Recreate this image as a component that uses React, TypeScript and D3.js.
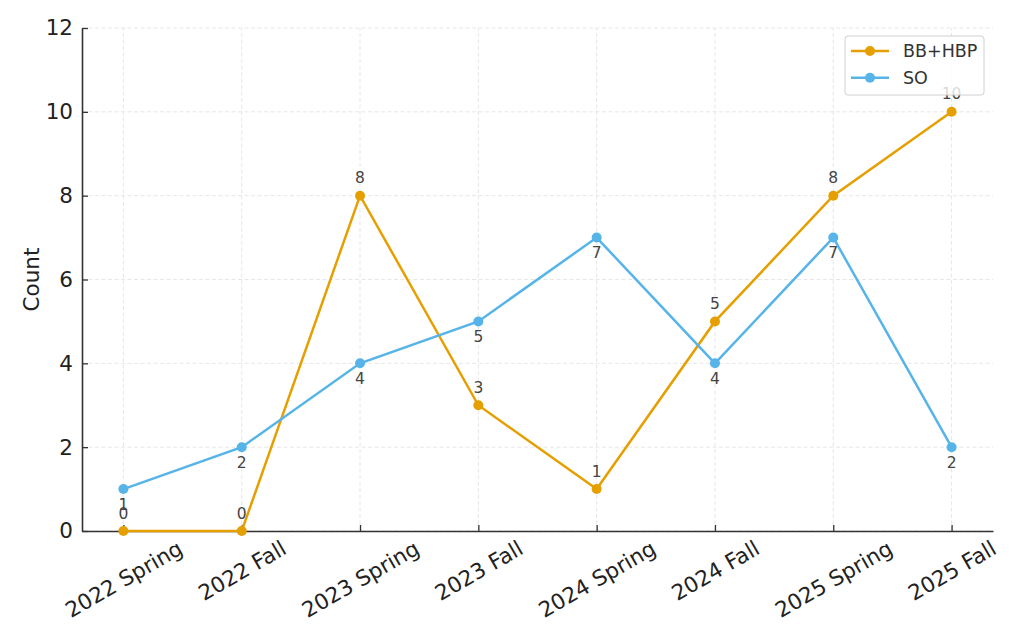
import React from "react";
import * as d3 from "d3";

const seasons = [
  "2022 Spring", "2022 Fall", "2023 Spring", "2023 Fall",
  "2024 Spring", "2024 Fall", "2025 Spring", "2025 Fall",
];
const bbHbp = [0, 0, 8, 3, 1, 5, 8, 10];
const so = [1, 2, 4, 5, 7, 4, 7, 2];
const yTicks = [0, 2, 4, 6, 8, 10, 12];

const ORANGE = "#E69F00";
const BLUE = "#56B4E9";
const FONT = "DejaVu Sans";
const TICK_FS = 21.5;

const W = 1024, H = 640;
const margin = { left: 82, right: 31, top: 28, bottom: 109 };

const App = () => {
  const svgRef = React.useRef(null);

  React.useEffect(() => {
    const x = d3.scaleLinear().domain([-0.35, seasons.length - 1 + 0.35]).range([margin.left, W - margin.right]);
    const y = d3.scaleLinear().domain([0, 12]).range([H - margin.bottom, margin.top]);

    const svg = d3.select(svgRef.current);
    svg.selectAll("*").remove();

    // grid
    const grid = svg.append("g");
    grid.selectAll("line.gx").data(seasons).enter().append("line")
      .attr("x1", (d, i) => x(i)).attr("x2", (d, i) => x(i))
      .attr("y1", y(0)).attr("y2", y(12))
      .attr("stroke", "#e0e0e0").attr("stroke-dasharray", "4,2.5").attr("stroke-width", 0.8);
    grid.selectAll("line.gy").data(yTicks).enter().append("line")
      .attr("x1", margin.left).attr("x2", W - margin.right)
      .attr("y1", d => y(d)).attr("y2", d => y(d))
      .attr("stroke", "#e0e0e0").attr("stroke-dasharray", "4,2.5").attr("stroke-width", 0.8);

    // axes
    const yAxis = svg.append("g").attr("transform", `translate(${margin.left},0)`)
      .call(d3.axisLeft(y).tickValues(yTicks).tickSizeInner(-6).tickSizeOuter(0).tickPadding(9));
    yAxis.select(".domain").attr("stroke", "#333").attr("stroke-width", 1.6);
    yAxis.selectAll("line").attr("stroke", "#333").attr("stroke-width", 1.3);
    yAxis.selectAll("text").attr("font-family", FONT).attr("font-size", TICK_FS).attr("fill", "#222");

    const xAxis = svg.append("g").attr("transform", `translate(0,${y(0)})`)
      .call(d3.axisBottom(x).tickValues(d3.range(seasons.length)).tickFormat(i => seasons[i])
        .tickSizeInner(-6).tickSizeOuter(0).tickPadding(0));
    xAxis.select(".domain").attr("stroke", "#333").attr("stroke-width", 1.6);
    xAxis.selectAll("line").attr("stroke", "#333").attr("stroke-width", 1.3);
    xAxis.selectAll("text")
      .attr("font-family", FONT).attr("font-size", TICK_FS).attr("fill", "#222")
      .attr("text-anchor", "middle").attr("dy", "0.35em").attr("y", 0)
      .attr("transform", function () {
        const L = (this as SVGTextElement).getComputedTextLength();
        const cy = 6 + (L * 0.5 + TICK_FS * 0.866) / 2;
        return `translate(0,${cy}) rotate(-30)`;
      });

    svg.append("text")
      .attr("transform", `translate(31,${(y(0) + y(12)) / 2}) rotate(-90)`)
      .attr("text-anchor", "middle").attr("dy", "0.35em")
      .attr("font-family", FONT).attr("font-size", TICK_FS).attr("fill", "#222")
      .text("Count");

    const series = [
      { name: "BB+HBP", values: bbHbp, color: ORANGE, dy: -12.5 },
      { name: "SO", values: so, color: BLUE, dy: 20.5 },
    ];

    const line = d3.line<number>().x((d, i) => x(i)).y(d => y(d));
    series.forEach(s => {
      svg.append("path").datum(s.values)
        .attr("fill", "none").attr("stroke", s.color).attr("stroke-width", 2.5)
        .attr("d", line);
      svg.append("g").selectAll("circle").data(s.values).enter().append("circle")
        .attr("cx", (d, i) => x(i)).attr("cy", d => y(d)).attr("r", 5)
        .attr("fill", s.color);
    });
    series.forEach(s => {
      svg.append("g").selectAll("text").data(s.values).enter().append("text")
        .attr("x", (d, i) => x(i)).attr("y", d => y(d) + s.dy)
        .attr("text-anchor", "middle")
        .attr("font-family", FONT).attr("font-size", 15.5).attr("fill", "#444")
        .text(d => d);
    });

    // legend
    const lg = svg.append("g").attr("transform", "translate(845,36)");
    lg.append("rect").attr("width", 139).attr("height", 59).attr("rx", 3)
      .attr("fill", "white").attr("fill-opacity", 0.8)
      .attr("stroke", "#d0d0d0").attr("stroke-width", 1);
    series.forEach((s, i) => {
      const cy = 15 + i * 26.7;
      lg.append("line").attr("x1", 6).attr("x2", 44).attr("y1", cy).attr("y2", cy)
        .attr("stroke", s.color).attr("stroke-width", 2.5);
      lg.append("circle").attr("cx", 25).attr("cy", cy).attr("r", 5).attr("fill", s.color);
      lg.append("text").attr("x", 58).attr("y", cy).attr("dy", "0.35em")
        .attr("font-family", FONT).attr("font-size", 17.5).attr("fill", "#333")
        .text(s.name);
    });
  }, []);

  return <svg ref={svgRef} width={W} height={H} style={{ position: "absolute", left: 0, top: 0 }} />;
};

export default App;
